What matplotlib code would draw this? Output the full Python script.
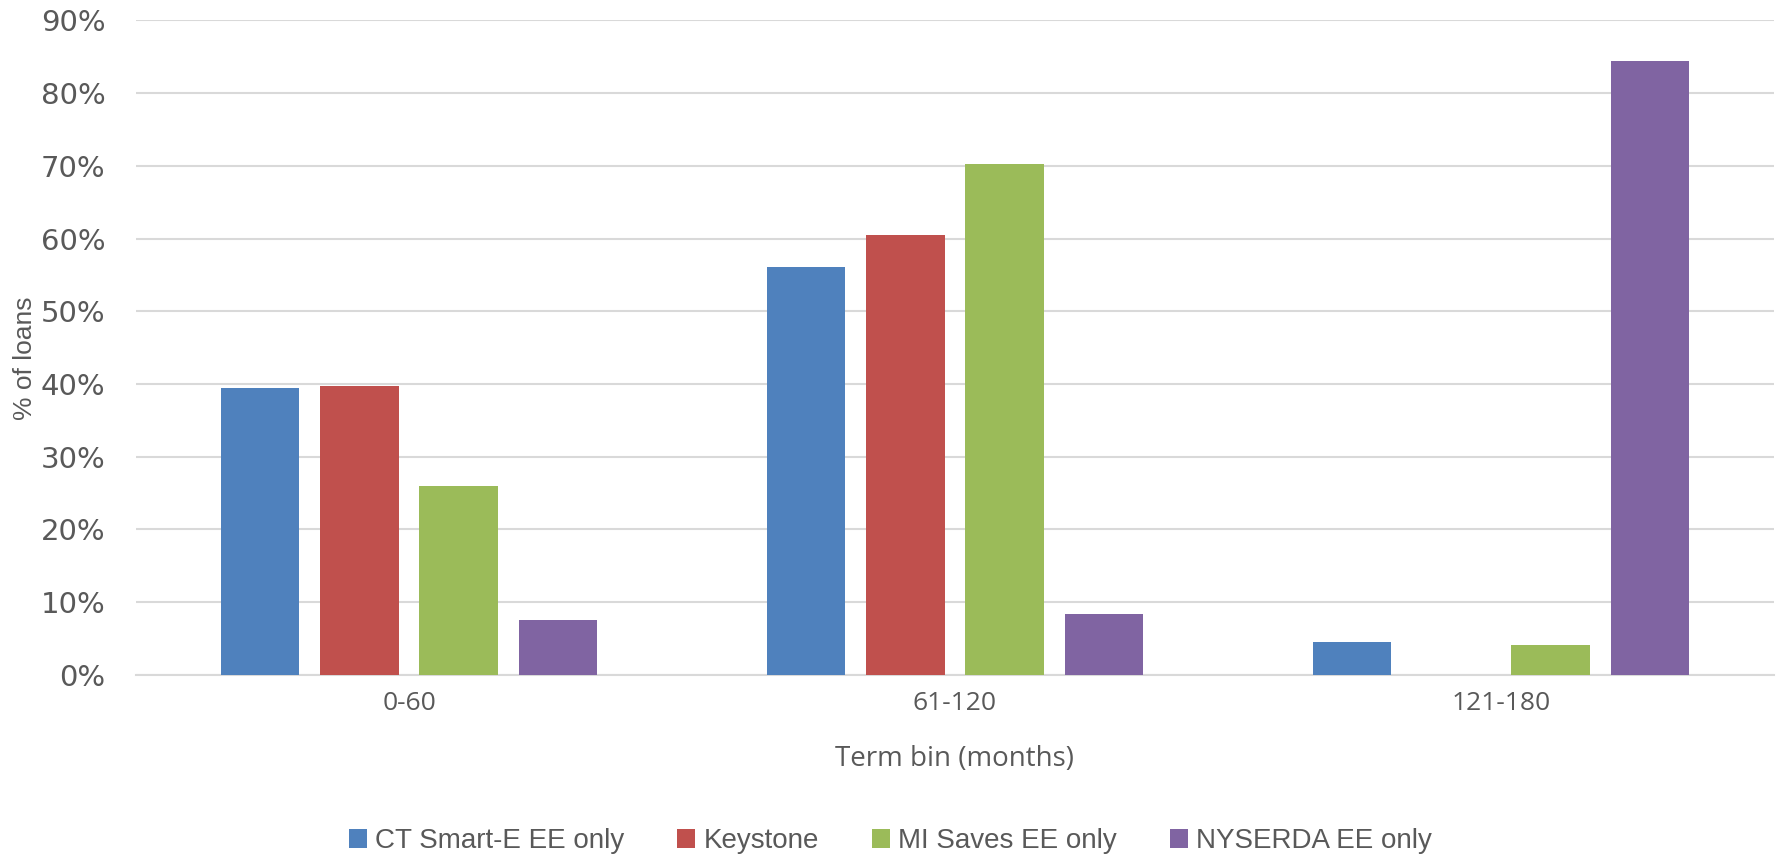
import matplotlib
matplotlib.use("Agg")
import matplotlib.pyplot as plt
import numpy as np
from matplotlib.ticker import PercentFormatter

categories = ["0-60", "61-120", "121-180"]
series_names = ["CT Smart-E EE only", "Keystone", "MI Saves EE only", "NYSERDA EE only"]
ct_smart = [0.395, 0.561, 0.045]
keystone = [0.397, 0.605, 0.0]
mi_saves = [0.259, 0.702, 0.041]
nyserda = [0.075, 0.083, 0.844]
colors = ["#4F81BD", "#C0504D", "#9BBB59", "#8064A2"]

values = [ct_smart, keystone, mi_saves, nyserda]

W, H = 1781, 856
fig = plt.figure(figsize=(W / 100, H / 100), dpi=100)
ax = fig.add_axes([0.0764, 0.2117, 0.9196, 0.7645])

x = np.arange(len(categories))
bw = 0.144
step = 0.182
offsets = (np.arange(4) - 1.5) * step
for i, (name, vals) in enumerate(zip(series_names, values)):
    ax.bar(x + offsets[i], vals, width=bw, color=colors[i], label=name, zorder=3)

ax.set_xlim(-0.5, 2.5)
ax.set_ylim(0, 0.9)
ax.set_yticks(np.arange(0, 0.91, 0.1))
ax.yaxis.set_major_formatter(PercentFormatter(1.0, decimals=0))
ax.set_xticks(x)
ax.set_xticklabels(categories)
ax.grid(axis="y", color="#D9D9D9", linewidth=1.5, zorder=0)
ax.set_axisbelow(True)
for s in ["top", "right", "left"]:
    ax.spines[s].set_visible(False)
ax.spines["bottom"].set_color("#D9D9D9")
ax.spines["bottom"].set_linewidth(1.5)
ax.tick_params(axis="both", length=0, colors="#595959")
ax.tick_params(axis="x", pad=12, labelsize=19)
ax.tick_params(axis="y", pad=22, labelsize=21)
for lab in ax.get_yticklabels():
    lab.set_fontfamily("DejaVu Sans")
for lab in ax.get_xticklabels():
    lab.set_fontfamily("Open Sans")

# axis titles
fig.text(0.5 * (0.0764 + 0.996), 1 - 759 / H, "Term bin (months)", fontsize=20,
         color="#595959", family="Open Sans", ha="center", va="center")
fig.text(25 / W, 1 - 358 / H, "% of loans", fontsize=19, color="#595959",
         family="Liberation Sans", rotation=90, ha="center", va="center")

leg = fig.legend(loc="center", bbox_to_anchor=(0.5, 1 - 841 / H), ncol=4, frameon=False,
                 prop={"family": "Liberation Sans", "size": 20},
                 handlelength=0.65, handleheight=0.65, handletextpad=0.3, columnspacing=1.9)
for t in leg.get_texts():
    t.set_color("#595959")

fig.savefig("out.png", dpi=100, facecolor="white")
